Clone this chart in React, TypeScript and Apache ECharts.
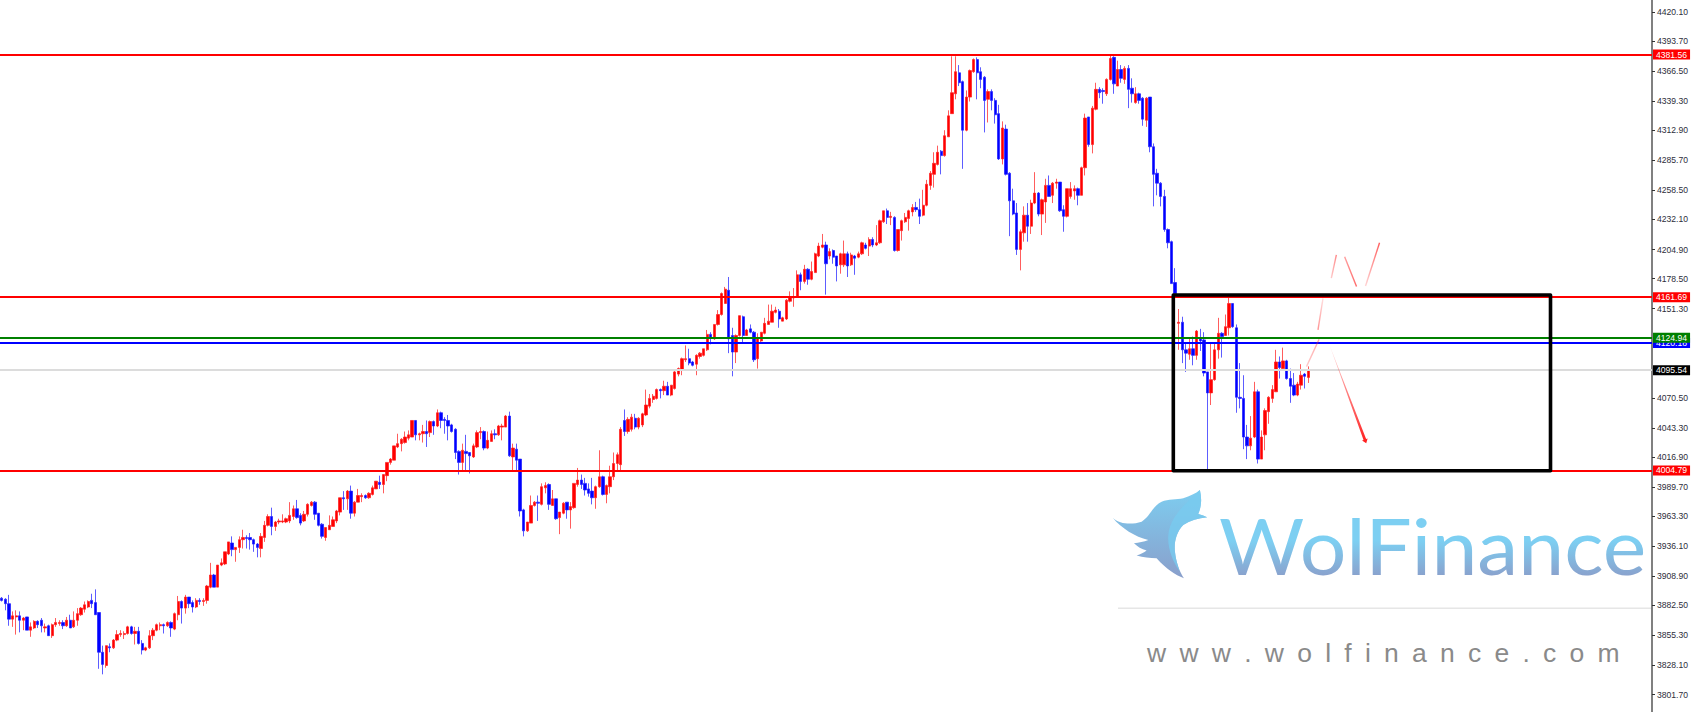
import React, { useEffect, useRef } from "react";
import * as echarts from "echarts";

type Candle = [number, number, number, number];

// Each row is [open, close, low, high].
const candlesA: Candle[] = [
[3889,3887,3886,3890],[3888,3884,3878,3889],[3884,3870,3864,3892],[3870,3873,3863,3877],[3872,3873,3856,3878],[3873,3869,3858,3877],[3869,3871,3860,3872],[3872,3860,3860,3872],[3860,3863,3854,3867],[3862,3868,3861,3869],
[3868,3865,3862,3869],[3869,3864,3858,3871],[3862,3863,3858,3866],[3864,3855,3855,3865],[3855,3865,3853,3866],[3865,3867,3863,3871],[3866,3867,3864,3869],[3867,3864,3861,3869],[3864,3869,3863,3872],[3869,3862,3862,3874],
[3863,3869,3862,3877],[3869,3875,3864,3880],[3874,3880,3873,3881],[3879,3883,3876,3886],[3881,3886,3880,3887],[3887,3884,3880,3893],[3885,3874,3874,3897],[3876,3840,3825,3876],[3840,3829,3820,3846],[3828,3846,3826,3846],
[3845,3844,3840,3848],[3844,3851,3843,3852],[3851,3856,3850,3860],[3856,3857,3854,3860],[3856,3857,3852,3859],[3857,3863,3856,3864],[3863,3857,3856,3864],[3857,3859,3847,3863],[3859,3848,3847,3863],[3848,3842,3838,3851],
[3842,3844,3841,3845],[3844,3855,3843,3860],[3855,3860,3851,3862],[3860,3865,3859,3866],[3864,3865,3860,3867],[3865,3864,3857,3866],[3864,3867,3863,3868],[3867,3862,3854,3868],[3861,3875,3860,3876],[3874,3886,3869,3891],
[3886,3880,3866,3887],[3880,3890,3875,3892],[3890,3884,3880,3890],[3885,3881,3876,3887],[3881,3887,3880,3889],[3887,3886,3883,3889],[3886,3887,3882,3889],[3887,3900,3884,3901],[3899,3910,3898,3921],[3910,3899,3899,3911],
[3899,3919,3899,3919],[3919,3921,3918,3925],[3920,3931,3919,3931],[3929,3940,3928,3940],[3939,3933,3927,3945],[3933,3935,3922,3935],[3935,3942,3930,3945],[3942,3944,3934,3951],[3944,3943,3934,3946],[3944,3942,3933,3948],
[3942,3938,3931,3943],[3938,3935,3926,3939],[3934,3945,3926,3948],[3944,3955,3940,3959],[3955,3963,3954,3965],[3963,3954,3946,3971],[3954,3958,3950,3959],[3958,3959,3956,3961],[3958,3959,3957,3965],[3958,3961,3957,3962],
[3959,3964,3957,3976],
];
const candlesB: Candle[] = [
[3963,3970,3960,3973],[3970,3962,3961,3978],[3964,3957,3955,3966],[3959,3965,3958,3968],[3965,3974,3963,3975],[3973,3976,3972,3977],[3976,3965,3960,3977],[3966,3955,3954,3966],[3956,3945,3943,3957],[3944,3953,3941,3953],
[3951,3955,3951,3964],[3954,3960,3954,3963],[3959,3968,3957,3969],[3967,3980,3964,3980],[3980,3979,3969,3986],[3979,3986,3969,3987],[3986,3966,3961,3991],[3966,3976,3963,3977],[3976,3982,3976,3988],[3981,3982,3976,3984],
[3982,3980,3979,3983],[3980,3984,3979,3985],[3983,3989,3982,3991],[3988,3995,3988,3995],[3994,3992,3988,4000],[3992,4001,3984,4001],[4000,4012,3995,4012],[4012,4015,4010,4016],[4014,4027,4014,4027],[4026,4029,4025,4038],
[4029,4033,4022,4034],[4030,4035,4029,4040],[4034,4037,4032,4041],[4035,4050,4035,4050],[4050,4037,4032,4050],[4037,4038,4032,4039],[4038,4040,4030,4046],[4040,4038,4026,4050],[4039,4049,4035,4050],[4049,4045,4037,4050],
[4045,4057,4044,4060],[4057,4050,4043,4058],[4051,4050,4038,4053],[4050,4045,4032,4055],[4046,4040,4039,4047],[4042,4021,4015,4043],[4022,4012,4001,4023],[4012,4023,4005,4029],[4022,4020,4005,4037],[4021,4018,4002,4021],
[4017,4027,4016,4029],[4026,4039,4025,4041],[4039,4040,4033,4044],[4040,4025,4023,4041],[4025,4032,4024,4040],[4031,4038,4031,4041],[4038,4037,4033,4042],[4037,4045,4036,4046],[4044,4045,4032,4047],[4044,4054,4044,4055],
[4054,4018,4017,4058],[4017,4025,4004,4029],[4024,4014,4005,4029],[4015,3968,3963,4015],[3969,3950,3945,3970],[3950,3958,3949,3958],[3957,3973,3957,3982],[3973,3976,3972,3977],[3976,3975,3959,3982],[3974,3990,3973,3993],
[3989,3991,3984,3994],[3992,3974,3969,3993],[3973,3979,3973,3987],[3979,3961,3960,3979],[3962,3967,3947,3967],[3966,3975,3965,3976],[3976,3969,3961,3976],[3969,3972,3952,3976],[3971,3993,3970,3993],[3992,3996,3990,4007],
[3996,3992,3988,4001],[3993,3987,3982,3998],[3988,3984,3981,3993],[3986,3980,3974,3998],[3980,3990,3970,3991],[3990,3999,3989,4023],[3999,3983,3982,4000],[3983,3991,3975,3992],[3990,3999,3984,4009],[3999,4011,3996,4021],
[4011,4019,4005,4021],[4010,4042,4005,4044],[4050,4040,4036,4060],
];
const candlesC: Candle[] = [
[4040,4051,4038,4053],[4042,4053,4040,4056],[4052,4044,4042,4056],[4044,4052,4042,4053],[4046,4056,4044,4057],[4055,4064,4054,4078],[4063,4070,4061,4074],[4069,4072,4066,4074],[4070,4078,4069,4079],[4078,4077,4070,4079],
[4077,4081,4073,4086],[4081,4073,4073,4085],[4073,4082,4072,4082],[4079,4094,4078,4095],[4092,4097,4090,4098],[4096,4106,4091,4107],[4105,4106,4103,4118],[4106,4102,4100,4115],[4103,4100,4099,4104],[4101,4109,4091,4110],
[4108,4111,4106,4112],[4109,4115,4108,4115],[4114,4128,4113,4132],[4128,4125,4119,4130],[4124,4137,4123,4137],[4137,4146,4136,4150],[4146,4165,4145,4166],[4156,4169,4156,4171],[4168,4124,4111,4180],[4127,4112,4090,4134],
[4112,4127,4102,4128],[4127,4145,4126,4145],[4144,4127,4121,4145],[4127,4132,4127,4133],[4133,4130,4129,4137],[4130,4105,4103,4131],[4106,4125,4097,4129],[4122,4130,4121,4130],[4129,4138,4128,4143],[4137,4140,4137,4155],
[4139,4149,4139,4155],[4148,4150,4147,4153],[4149,4142,4134,4151],[4140,4143,4140,4144],[4142,4159,4141,4160],[4158,4162,4157,4167],[4161,4162,4153,4170],[4162,4182,4162,4186],[4182,4176,4168,4184],[4176,4187,4174,4191],
[4187,4178,4173,4188],[4178,4185,4177,4194],[4184,4201,4184,4202],[4199,4208,4198,4211],[4207,4209,4206,4219],[4209,4192,4164,4212],[4199,4203,4196,4206],[4204,4198,4192,4205],[4199,4190,4176,4199],[4191,4201,4183,4202],
[4191,4201,4189,4213],[4201,4190,4180,4203],[4191,4200,4190,4202],[4199,4197,4182,4200],[4198,4201,4197,4203],[4201,4211,4200,4212],[4209,4206,4205,4211],[4208,4214,4199,4216],[4214,4209,4207,4216],[4209,4211,4208,4227],
[4211,4231,4210,4232],[4230,4240,4229,4240],[4240,4234,4228,4242],[4234,4235,4227,4239],[4234,4204,4203,4235],[4204,4223,4203,4223],[4222,4231,4213,4232],[4230,4234,4229,4238],[4233,4240,4222,4241],[4239,4243,4235,4246],
[4243,4241,4239,4248],[4241,4235,4228,4251],
];
const candlesD: Candle[] = [
[4236,4245,4235,4259],[4245,4264,4244,4268],[4263,4274,4259,4276],[4273,4283,4261,4293],[4282,4293,4281,4299],[4294,4290,4273,4295],[4290,4308,4289,4313],[4307,4326,4307,4331],[4328,4347,4328,4380],[4346,4366,4341,4380],
[4365,4356,4353,4372],[4357,4313,4278,4358],[4313,4343,4312,4349],[4343,4367,4339,4368],[4366,4377,4365,4378],[4377,4365,4341,4379],[4366,4359,4351,4370],[4361,4340,4311,4362],[4341,4348,4320,4350],[4348,4340,4331,4350],
[4340,4327,4319,4342],[4328,4287,4286,4336],[4287,4315,4282,4321],[4314,4273,4272,4318],[4274,4249,4217,4275],[4249,4237,4236,4260],[4238,4205,4200,4247],[4205,4221,4186,4223],[4220,4236,4212,4244],[4236,4226,4212,4247],
[4226,4247,4219,4250],[4247,4256,4246,4275],[4256,4237,4235,4257],[4237,4250,4218,4251],[4248,4263,4229,4269],[4263,4253,4253,4272],[4254,4265,4247,4266],[4265,4266,4260,4269],[4266,4240,4239,4266],[4241,4235,4221,4245],
[4235,4260,4234,4260],[4253,4260,4251,4266],[4258,4260,4250,4263],[4260,4254,4245,4261],[4254,4279,4254,4280],[4279,4324,4272,4328],[4325,4300,4298,4325],[4300,4333,4292,4335],[4332,4350,4331,4356],[4350,4347,4342,4352],
[4349,4348,4337,4351],[4346,4359,4344,4360],[4359,4378,4358,4381],[4379,4355,4346,4380],[4353,4368,4353,4376],[4368,4360,4356,4372],[4359,4369,4355,4371],[4369,4350,4333,4372],[4351,4346,4338,4360],[4338,4346,4337,4352],
[4346,4340,4337,4347],[4342,4323,4317,4343],[4322,4342,4316,4343],[4343,4298,4293,4343],[4298,4273,4244,4301],[4274,4265,4254,4278],[4265,4253,4244,4266],[4253,4223,4221,4259],
];
const candlesE: Candle[] = [
[4223,4211,4206,4224],[4212,4174,4174,4213],[4175,4165,4164,4188],[4138,4139,4114,4151],[4139,4114,4102,4144],[4114,4111,4094,4121],[4110,4115,4105,4125],[4115,4109,4100,4126],[4109,4131,4105,4132],[4125,4122,4113,4133],
[4123,4093,4090,4130],[4094,4075,4006,4094],[4075,4087,4064,4120],[4087,4114,4086,4120],[4114,4129,4106,4143],[4129,4126,4107,4130],[4127,4135,4127,4146],[4134,4156,4127,4162],[4156,4135,4134,4156],[4134,4071,4057,4137],
[4071,4070,4061,4102],[4070,4035,4024,4091],[4035,4027,4015,4046],[4027,4034,4023,4054],[4035,4076,4034,4085],[4076,4015,4011,4078],[4015,4035,4015,4041],[4037,4059,4023,4061],[4058,4071,4047,4072],[4070,4078,4066,4082],
[4076,4103,4076,4114],[4103,4098,4088,4108],[4097,4104,4096,4116],[4104,4088,4087,4105],[4088,4081,4066,4097],[4082,4073,4072,4093],[4073,4083,4072,4085],[4082,4091,4078,4101],[4092,4090,4079,4093],[4089,4096,4084,4099],
];

const tickValues = [4420.1,4393.7,4366.5,4339.3,4312.9,4285.7,4258.5,4232.1,4204.9,4178.5,4151.3,4070.5,4043.3,4016.9,3989.7,3963.3,3936.1,3908.9,3882.5,3855.3,3828.1,3801.7];

const levelValues = [4381.56, 4161.69, 4120.18, 4124.94, 4095.54, 4004.79];
const levelColors = ["#ff0000", "#ff0000", "#0000ff", "#008000", "#dcdcdc", "#ff0000"];
const levelBadges = ["#ff0000", "#ff0000", "#0000ff", "#008000", "#000000", "#ff0000"];

// Hand-drawn box and arrow strokes: [bar position, price, bar position, price]
const boxCorners = [326, 4163.7, 430.8, 4004.5];
const strokes = [
  [363, 4098.8, 366.5, 4123.6],
  [366.2, 4132, 367.6, 4160.7],
  [369.9, 4178.9, 371.3, 4200],
  [373.6, 4198.4, 376.9, 4171.3],
  [379.4, 4171.9, 383.3, 4211],
];
const strokeFades: [number, number][] = [[0.25, 0.4],[0.5, 0.15],[0.25, 0.55],[0.45, 0.7],[0.2, 0.75]];
const downArrow = [369.4, 4118.4, 379.6, 4029.4];

const TOTAL_SLOTS = 459;
const PRICE_MAX = 4430.97;
const PRICE_MIN = 3785.87;

const wolfBody = "M38 83 C60 103 95 105 125 95 C150 80 160 45 185 35 C205 27 230 30 250 25 C270 18 288 10 300 0 C306 25 305 50 295 72 C305 75 315 78 322 82 C295 85 270 92 250 105 C230 125 222 155 225 185 C228 215 238 245 252 265 C225 255 200 238 170 205 C150 205 130 203 110 197 C122 193 132 188 140 182 C125 178 112 170 102 160 C117 158 132 155 145 150 C105 140 65 115 38 83 Z";
const wolfWing = "M300 0 C306 25 305 50 295 72 C305 75 315 78 322 82 C295 85 270 92 250 105 C230 125 222 155 225 185 C227 205 232 225 240 245 C218 215 203 175 205 140 C207 90 240 55 300 0 Z";

export default function App() {
  const ref = useRef<HTMLDivElement>(null);
  useEffect(() => {
    document.body.style.margin = "0";
    document.body.style.background = "#fff";
    echarts.graphic.registerShape("wolfBody", echarts.graphic.extendPath(wolfBody, {}));
    echarts.graphic.registerShape("wolfWing", echarts.graphic.extendPath(wolfWing, {}));
    const chart = echarts.init(ref.current!, undefined, { renderer: "svg" });
    const candles = [...candlesA, ...candlesB, ...candlesC, ...candlesD, ...candlesE];
    const categories = Array.from({ length: TOTAL_SLOTS }, (_, i) => String(i));
    const logoFill = new echarts.graphic.LinearGradient(0, 0, 0, 1, [
      { offset: 0, color: "#7dcdf0" },
      { offset: 1, color: "#8a9fcb" },
    ]);
    chart.setOption({
      animation: false,
      backgroundColor: "#ffffff",
      grid: { left: 0, right: 41, top: 0, bottom: 0, containLabel: false },
      xAxis: [
        { type: "category", data: categories, show: false, boundaryGap: true },
        { type: "value", min: 0, max: TOTAL_SLOTS, show: false },
      ],
      yAxis: {
        type: "value",
        position: "right",
        min: PRICE_MIN,
        max: PRICE_MAX,
        splitLine: { show: false },
        axisLine: { show: true, onZero: false, lineStyle: { color: "#808080", width: 2 } },
        axisTick: { show: true, length: 3, customValues: tickValues, lineStyle: { color: "#333", width: 1 } },
        axisLabel: {
          customValues: tickValues,
          margin: 5,
          color: "#2d2d3a",
          fontFamily: "Liberation Sans",
          fontSize: 8.6,
          formatter: (v: number) => v.toFixed(2),
          showMinLabel: true,
          showMaxLabel: true,
        },
      },
      series: [
        {
          type: "candlestick",
          data: candles,
          barWidth: 2.8,
          progressive: 0,
          large: false,
          itemStyle: {
            color: "#ff0000",
            color0: "#0000ff",
            borderColor: "rgba(255,30,30,0.72)",
            borderColor0: "rgba(30,30,255,0.72)",
            borderWidth: 1,
          },
          markLine: {
            silent: true,
            symbol: "none",
            animation: false,
            precision: 2,
            data: levelValues.map((v, i) => ({
              yAxis: v,
              lineStyle: { color: levelColors[i], width: 2, type: "solid", opacity: 1 },
              label: {
                show: true,
                position: "end",
                distance: 1,
                formatter: () => v.toFixed(2),
                color: "#ffffff",
                backgroundColor: levelBadges[i],
                fontFamily: "Liberation Sans",
                fontSize: 8.6,
                padding: [1, 3, 0, 3],
                lineHeight: 9,
              },
            })),
          },
        },
        {
          type: "custom",
          xAxisIndex: 1,
          yAxisIndex: 0,
          silent: true,
          z: 5,
          clip: false,
          encode: { x: [0, 2], y: [1, 3] },
          data: [...strokes.map((s, i) => [...s, i])],
          renderItem: (_: any, api: any) => {
            const a = api.coord([api.value(0), api.value(1)]);
            const b = api.coord([api.value(2), api.value(3)]);
            const fade = strokeFades[api.value(4)];
            return {
              type: "line",
              shape: { x1: a[0], y1: a[1], x2: b[0], y2: b[1] },
              style: {
                lineWidth: 1.4,
                stroke: new echarts.graphic.LinearGradient(a[0] < b[0] ? 0 : 1, a[1] < b[1] ? 0 : 1, a[0] < b[0] ? 1 : 0, a[1] < b[1] ? 1 : 0, [
                  { offset: 0, color: `rgba(255,40,40,${fade[0]})` },
                  { offset: 1, color: `rgba(255,40,40,${fade[1]})` },
                ]),
              },
            };
          },
        },
        {
          type: "custom",
          xAxisIndex: 1,
          yAxisIndex: 0,
          silent: true,
          z: 5,
          clip: false,
          encode: { x: [0, 2], y: [1, 3] },
          data: [downArrow],
          renderItem: (_: any, api: any) => {
            const a = api.coord([api.value(0), api.value(1)]);
            const b = api.coord([api.value(2), api.value(3)]);
            const dx = b[0] - a[0];
            const dy = b[1] - a[1];
            const len = Math.hypot(dx, dy);
            const ux = dx / len;
            const uy = dy / len;
            const nx = -uy;
            const ny = ux;
            return {
              type: "polygon",
              shape: {
                points: [
                  [a[0], a[1]],
                  [b[0] - ux * 4 + nx * 1.4, b[1] - uy * 4 + ny * 1.4],
                  [b[0] - ux * 4 + nx * 3, b[1] - uy * 4 + ny * 3],
                  [b[0], b[1]],
                  [b[0] - ux * 4 - nx * 3, b[1] - uy * 4 - ny * 3],
                  [b[0] - ux * 4 - nx * 1.4, b[1] - uy * 4 - ny * 1.4],
                ],
              },
              style: {
                fill: new echarts.graphic.LinearGradient(0, 0, 0, 1, [
                  { offset: 0, color: "rgba(255,60,60,0.15)" },
                  { offset: 0.5, color: "rgba(255,50,50,0.65)" },
                  { offset: 1, color: "rgba(255,30,30,1)" },
                ]),
              },
            };
          },
        },
        {
          type: "custom",
          xAxisIndex: 1,
          yAxisIndex: 0,
          silent: true,
          z: 6,
          clip: false,
          encode: { x: [0, 2], y: [1, 3] },
          data: [boxCorners],
          renderItem: (_: any, api: any) => {
            const a = api.coord([api.value(0), api.value(1)]);
            const b = api.coord([api.value(2), api.value(3)]);
            return {
              type: "rect",
              shape: { x: a[0], y: a[1], width: b[0] - a[0], height: b[1] - a[1] },
              style: { fill: "none", stroke: "#000000", lineWidth: 3.6, lineJoin: "round" },
            };
          },
        },
      ],
      graphic: [
        { type: "wolfBody", x: 1100, y: 490, scaleX: 1 / 3, scaleY: 1 / 3, silent: true, style: { fill: logoFill } },
        { type: "wolfWing", x: 1100, y: 490, scaleX: 1 / 3, scaleY: 1 / 3, silent: true, style: { fill: "#78cbef", opacity: 0.8 } },
        {
          type: "text",
          x: 1219,
          y: 584,
          scaleX: 1.07,
          silent: true,
          style: {
            text: "WolFinance",
            fontFamily: "Lato",
            fontSize: 77,
            fill: "url(#wolfTextGradient)",
            textAlign: "left",
            textVerticalAlign: "bottom",
          },
        },
        {
          type: "rect",
          silent: true,
          shape: { x: 1118, y: 607.5, width: 534, height: 1.5 },
          style: { fill: "#e6e6e6" },
        },
        {
          type: "text",
          x: 1147,
          y: 666,
          silent: true,
          style: {
            text: "www.wolfinance.com".split("").join("\u2002"),
            fontFamily: "Liberation Sans",
            fontSize: 26.5,
            fill: "#8a8a8a",
            textAlign: "left",
            textVerticalAlign: "bottom",
          },
        },
      ],
    });
    return () => chart.dispose();
  }, []);
  return (
    <>
      <svg width="0" height="0" style={{ position: "absolute" }} aria-hidden="true">
        <defs>
          <linearGradient id="wolfTextGradient" x1="0" y1="0" x2="0" y2="1">
            <stop offset="0.45" stopColor="#7dcff2" />
            <stop offset="0.85" stopColor="#8a9fcb" />
          </linearGradient>
        </defs>
      </svg>
      <div ref={ref} style={{ position: "fixed", left: 0, top: 0, width: 1693, height: 712 }} />
    </>
  );
}
